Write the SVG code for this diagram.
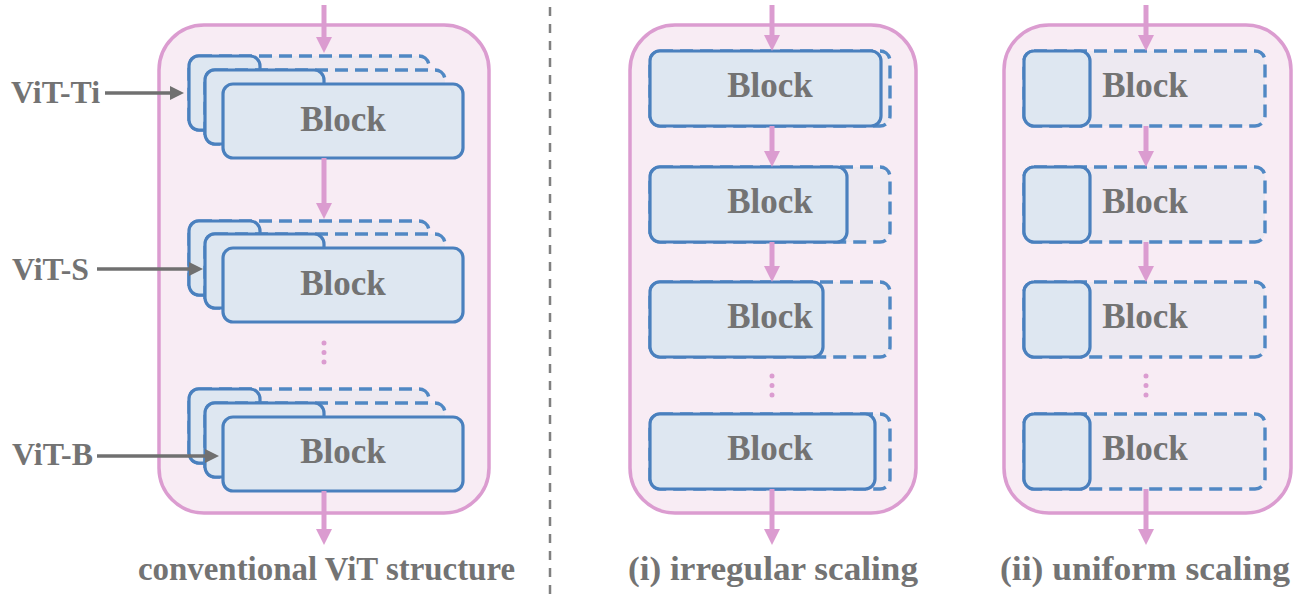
<svg xmlns="http://www.w3.org/2000/svg" width="1310" height="602" viewBox="0 0 1310 602">
<style>
.bg{fill:#FFFFFF}
.cont{fill:#F8ECF4;stroke:#DB9CD0;stroke-width:3.5}
.solid{fill:#DEE7F1;stroke:#4A80BE;stroke-width:3.2}
.dash{fill:#EDE9F1;stroke:#5088C4;stroke-width:3.4;stroke-dasharray:13 7}
.blk{font-family:"Liberation Serif","Times New Roman",serif;font-weight:bold;font-size:35px;fill:#737373;text-anchor:middle}
.lbl{font-family:"Liberation Serif","Times New Roman",serif;font-weight:bold;font-size:32px;fill:#737373}
.cap{font-family:"Liberation Serif","Times New Roman",serif;font-weight:bold;font-size:34px;fill:#737373}
.pk{stroke:#DB9CD0;stroke-width:5;fill:none}
.gy{stroke:#707070;stroke-width:3.5;fill:none}
.dots{stroke:#DB9CD0;stroke-width:5;stroke-linecap:round;stroke-dasharray:0 9.5;fill:none}
.sep{stroke:#808080;stroke-width:2.5;stroke-dasharray:9 8}
</style>
<defs>
<marker id="ap" viewBox="0 0 16 16" refX="2" refY="8" markerWidth="16" markerHeight="16" markerUnits="userSpaceOnUse" orient="auto">
<path d="M0,0 L16,8 L0,16 z" fill="#DB9CD0"/>
</marker>
<marker id="ag" viewBox="0 0 14 14" refX="2" refY="7" markerWidth="14" markerHeight="14" markerUnits="userSpaceOnUse" orient="auto">
<path d="M0,0 L14,7 L0,14 z" fill="#707070"/>
</marker>
</defs>
<rect class="bg" x="0" y="0" width="1310" height="602"/>

<line class="sep" x1="550" y1="7" x2="550" y2="600"/>

<g id="container-conventional"><rect class="cont" x="159" y="25" width="330" height="488" rx="45"/></g>
<g id="container-irregular"><rect class="cont" x="630" y="25" width="286" height="488" rx="45"/></g>
<g id="container-uniform"><rect class="cont" x="1004" y="25" width="287" height="488" rx="45"/></g>

<g id="stack-1">
<rect class="dash" x="189" y="56" width="240" height="74" rx="10"/>
<rect class="solid" x="189" y="56" width="71" height="74" rx="10"/>
<rect class="dash" x="205" y="70" width="240" height="74" rx="10"/>
<rect class="solid" x="205" y="70" width="119" height="74" rx="10"/>
<rect class="solid" x="223" y="84" width="240" height="74" rx="10"/>
<text class="blk" x="343" y="131">Block</text>
</g>
<g id="stack-2">
<rect class="dash" x="189" y="221" width="240" height="74" rx="10"/>
<rect class="solid" x="189" y="221" width="71" height="74" rx="10"/>
<rect class="dash" x="205" y="234" width="240" height="74" rx="10"/>
<rect class="solid" x="205" y="234" width="119" height="74" rx="10"/>
<rect class="solid" x="223" y="248" width="240" height="74" rx="10"/>
<text class="blk" x="343" y="295">Block</text>
</g>
<g id="stack-3">
<rect class="dash" x="189" y="389" width="240" height="74" rx="10"/>
<rect class="solid" x="189" y="389" width="71" height="74" rx="10"/>
<rect class="dash" x="205" y="403" width="240" height="74" rx="10"/>
<rect class="solid" x="205" y="403" width="119" height="74" rx="10"/>
<rect class="solid" x="223" y="417" width="240" height="74" rx="10"/>
<text class="blk" x="343" y="463">Block</text>
</g>

<g id="label-vit-ti"><text class="lbl" x="11" y="103" textLength="89" lengthAdjust="spacingAndGlyphs">ViT-Ti</text></g>
<g id="label-vit-s"><text class="lbl" x="12" y="280" textLength="77" lengthAdjust="spacingAndGlyphs">ViT-S</text></g>
<g id="label-vit-b"><text class="lbl" x="12" y="465" textLength="81" lengthAdjust="spacingAndGlyphs">ViT-B</text></g>

<g id="irr-1">
<rect class="dash" x="650" y="51" width="240" height="75" rx="10"/>
<rect class="solid" x="650" y="51" width="231" height="75" rx="10"/>
<text class="blk" x="770" y="97">Block</text>
</g>
<g id="irr-2">
<rect class="dash" x="650" y="167" width="240" height="75" rx="10"/>
<rect class="solid" x="650" y="167" width="197" height="75" rx="10"/>
<text class="blk" x="770" y="213">Block</text>
</g>
<g id="irr-3">
<rect class="dash" x="650" y="282" width="240" height="75" rx="10"/>
<rect class="solid" x="650" y="282" width="173" height="75" rx="10"/>
<text class="blk" x="770" y="328">Block</text>
</g>
<g id="irr-4">
<rect class="dash" x="650" y="414" width="240" height="75" rx="10"/>
<rect class="solid" x="650" y="414" width="225" height="75" rx="10"/>
<text class="blk" x="770" y="460">Block</text>
</g>

<g id="uni-1">
<rect class="dash" x="1024" y="51" width="241" height="75" rx="10"/>
<rect class="solid" x="1024" y="51" width="66" height="75" rx="10"/>
<text class="blk" x="1145" y="97">Block</text>
</g>
<g id="uni-2">
<rect class="dash" x="1024" y="167" width="241" height="75" rx="10"/>
<rect class="solid" x="1024" y="167" width="66" height="75" rx="10"/>
<text class="blk" x="1145" y="213">Block</text>
</g>
<g id="uni-3">
<rect class="dash" x="1024" y="282" width="241" height="75" rx="10"/>
<rect class="solid" x="1024" y="282" width="66" height="75" rx="10"/>
<text class="blk" x="1145" y="328">Block</text>
</g>
<g id="uni-4">
<rect class="dash" x="1024" y="414" width="241" height="75" rx="10"/>
<rect class="solid" x="1024" y="414" width="66" height="75" rx="10"/>
<text class="blk" x="1145" y="460">Block</text>
</g>

<g id="captions">
<text class="cap" x="138" y="580" textLength="377" lengthAdjust="spacingAndGlyphs">conventional ViT structure</text>
<text class="cap" x="628" y="580" textLength="290" lengthAdjust="spacingAndGlyphs">(i) irregular scaling</text>
<text class="cap" x="1000" y="580" textLength="290" lengthAdjust="spacingAndGlyphs">(ii) uniform scaling</text>
</g>

<g id="connectors">
<line class="pk" x1="324" y1="5" x2="324" y2="39" marker-end="url(#ap)"/>
<line class="pk" x1="324" y1="158" x2="324" y2="205" marker-end="url(#ap)"/>
<line class="dots" x1="324" y1="343" x2="324" y2="363"/>
<line class="pk" x1="324" y1="491" x2="324" y2="531" marker-end="url(#ap)"/>

<line class="pk" x1="772" y1="5" x2="772" y2="37" marker-end="url(#ap)"/>
<line class="pk" x1="772" y1="126" x2="772" y2="153" marker-end="url(#ap)"/>
<line class="pk" x1="772" y1="242" x2="772" y2="268" marker-end="url(#ap)"/>
<line class="dots" x1="772" y1="376" x2="772" y2="396"/>
<line class="pk" x1="772" y1="489" x2="772" y2="531" marker-end="url(#ap)"/>

<line class="pk" x1="1146" y1="5" x2="1146" y2="37" marker-end="url(#ap)"/>
<line class="pk" x1="1146" y1="126" x2="1146" y2="153" marker-end="url(#ap)"/>
<line class="pk" x1="1146" y1="242" x2="1146" y2="268" marker-end="url(#ap)"/>
<line class="dots" x1="1146" y1="376" x2="1146" y2="396"/>
<line class="pk" x1="1146" y1="489" x2="1146" y2="531" marker-end="url(#ap)"/>

<line class="gy" x1="105" y1="93" x2="172" y2="93" marker-end="url(#ag)"/>
<line class="gy" x1="97" y1="269" x2="191" y2="269" marker-end="url(#ag)"/>
<line class="gy" x1="97" y1="456" x2="207" y2="456" marker-end="url(#ag)"/>
</g>
</svg>
